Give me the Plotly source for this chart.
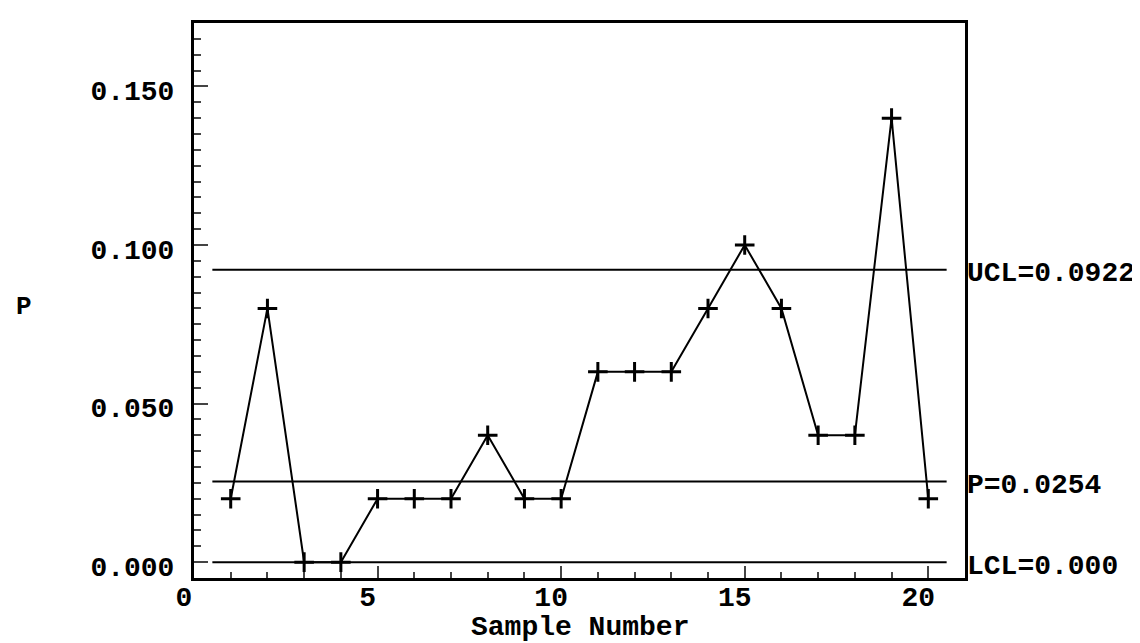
import plotly.graph_objects as go

sample = list(range(1, 21))
p_values = [0.02, 0.08, 0.0, 0.0, 0.02, 0.02, 0.02, 0.04, 0.02, 0.02,
            0.06, 0.06, 0.06, 0.08, 0.10, 0.08, 0.04, 0.04, 0.14, 0.02]
limit_names = ["UCL=0.0922", "P=0.0254", "LCL=0.000"]
limit_values = [0.0922, 0.0254, 0.0]
limit_span = [0.5, 20.5]
x_ticks = [0, 5, 10, 15, 20]
y_ticks = [0.0, 0.05, 0.10, 0.15]
y_tick_text = ["0.000", "0.050", "0.100", "0.150"]

FONT = "Liberation Mono"

fig = go.Figure()
for v in limit_values:
    fig.add_trace(go.Scatter(x=limit_span, y=[v, v], mode="lines",
                             line=dict(color="black", width=2), hoverinfo="skip"))
fig.add_trace(go.Scatter(
    x=sample, y=p_values, mode="lines+markers",
    line=dict(color="black", width=2),
    marker=dict(symbol="cross-thin", size=14, line=dict(color="black", width=3), color="black"),
))

for name, v in zip(limit_names, limit_values):
    fig.add_annotation(x=1.0, xref="paper", y=v, yref="y", text=name, showarrow=False,
                       xanchor="left", yanchor="middle", xshift=0, yshift=-4,
                       font=dict(family=FONT, size=28, color="black", weight="bold"))

fig.add_annotation(x=0, xref="paper", y=0.5, yref="paper", text="P", showarrow=False,
                   xanchor="center", yanchor="middle", xshift=-170, yshift=-6,
                   font=dict(family=FONT, size=26, color="black", weight="bold"))

fig.add_annotation(x=0.5, xref="paper", y=0, yref="paper", text="Sample Number", showarrow=False,
                   xanchor="center", yanchor="middle", yshift=-49,
                   font=dict(family=FONT, size=28, color="black", weight="bold"))

fig.update_layout(
    width=1140, height=643,
    margin=dict(l=186, r=183, t=12, b=73),
    plot_bgcolor="white", paper_bgcolor="white",
    showlegend=False,
    font=dict(family=FONT, size=28, color="black", weight="bold"),
    xaxis=dict(range=[0, 21], tickvals=x_ticks, ticks="inside", ticklen=12, tickwidth=2,
               showgrid=False, zeroline=False, showline=True, linewidth=3, linecolor="black",
               mirror=True, minor=dict(dtick=1, ticks="inside", ticklen=6, tickwidth=2, showgrid=False),
               ticklabelstandoff=-9, ticklabelshift=-10,
               tickfont=dict(family=FONT, size=28, weight="bold")),
    yaxis=dict(range=[-0.005, 0.17], tickvals=y_ticks, ticktext=y_tick_text, ticks="inside",
               ticklen=14, tickwidth=2, showgrid=False, zeroline=False, showline=True,
               linewidth=3, linecolor="black", mirror=True,
               minor=dict(dtick=0.005, tick0=0, ticks="inside", ticklen=7, tickwidth=2, showgrid=False),
               ticklabelstandoff=11, ticklabelshift=4,
               tickfont=dict(family=FONT, size=28, weight="bold")),
)

fig.write_html("out.html")
